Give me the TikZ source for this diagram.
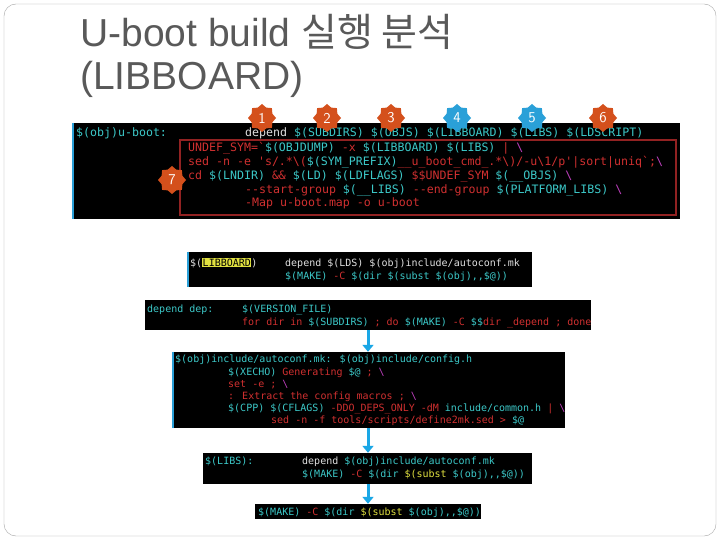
\documentclass[tikz,border=0pt]{standalone}
\usepackage{fontspec}
\setmainfont{Liberation Sans}
\newfontfamily\krfont{Noto Sans CJK KR}
\newfontfamily\monofont[Ligatures=ResetAll]{DejaVu Sans Mono}
\usetikzlibrary{shapes.geometric,arrows.meta}
\definecolor{tcyan}{HTML}{3CC8C8}
\definecolor{tred}{HTML}{D03030}
\definecolor{tmag}{HTML}{C040C0}
\definecolor{twhite}{HTML}{E0E0E0}
\definecolor{tyel}{HTML}{E0E040}
\definecolor{badge}{HTML}{D4501C}
\definecolor{bblue}{HTML}{2AA0D8}
\definecolor{arrowc}{HTML}{1AA7E6}
\definecolor{titlec}{HTML}{595959}
\newcommand\Tc[1]{\textcolor{tcyan}{#1}}
\newcommand\Tr[1]{\textcolor{tred}{#1}}
\newcommand\Tm[1]{\textcolor{tmag}{#1}}
\newcommand\Tw[1]{\textcolor{twhite}{#1}}
\newcommand\Ty[1]{\textcolor{tyel}{#1}}
\newcommand\bs{\textbackslash}
\tikzset{
  box/.style={fill=black,draw=none,inner sep=0},
  txt/.style={anchor=base west,inner sep=0,font=\monofont\fontsize{10}{12}\selectfont},
  bigtxt/.style={anchor=base west,inner sep=0,font=\monofont\fontsize{11.6}{13}\selectfont},
  badgestar/.style={star,star points=8,star point ratio=1.25,fill=badge,minimum size=28pt,inner sep=0,text=white,font=\sffamily\fontsize{15}{15}\selectfont},
  arr/.style={draw=arrowc,line width=3pt,-{Triangle[length=7pt,width=11pt]}},
  ttl/.style={anchor=base west,inner sep=0,text=titlec,font=\fontsize{39}{44}\selectfont},
}
\begin{document}
\begin{tikzpicture}[x=1pt,y=-1pt]
\useasboundingbox (0,0) rectangle (720,540);
\fill[white] (0,0) rectangle (720,540);
\draw[gray!70,rounded corners=12] (4,4) rectangle (716,536);
\node[ttl] (t1) at (80,47) {U-boot build {\krfont 실행 분석}};
\node[ttl] (t2) at (80,90) {(LIBBOARD)};
% boxes
\node[box,minimum width=607,minimum height=96] (b1) at (376.5,171) {};
\draw[bblue,line width=2pt] (b1.north west) -- (b1.south west);
\draw[tred!70!black,line width=1.2pt] (180,140) rectangle (676,215);
\node[box,minimum width=344,minimum height=35] (b2) at (360,269.5) {};
\draw[bblue,line width=1.5pt] (b2.north west) -- (b2.south west);
\node[box,minimum width=446,minimum height=30] (b3) at (368,315) {};
\node[box,minimum width=392,minimum height=76] (b4) at (369,390) {};
\draw[bblue,line width=1.5pt] (b4.north west) -- (b4.south west);
\node[box,minimum width=329,minimum height=31] (b5) at (367.5,468.5) {};
\node[box,minimum width=226,minimum height=15] (b6) at (368,511.5) {};
\coordinate (ax) at (368,0);
\draw[arr] (b3.south -| ax) -- (b4.north -| ax);
\draw[arr] (b4.south -| ax) -- (b5.north -| ax);
\draw[arr] (b5.south -| ax) -- (b6.north -| ax);
% box1 text
\node[bigtxt] (l0) at (76,137) {\Tc{\$(obj)u-boot:}};
\node[bigtxt] (l1) at (245,137) {\Tw{depend} \Tc{\$(SUBDIRS) \$(OBJS) \$(LIBBOARD) \$(LIBS) \$(LDSCRIPT)}};
\node[bigtxt] (l2) at (188,152) {\Tr{UNDEF\_SYM=`}\Tc{\$(OBJDUMP)} \Tr{-x} \Tc{\$(LIBBOARD) \$(LIBS)} \Tr{|} \Tm{\bs}};
\node[bigtxt] (l3) at (188,166) {\Tr{sed -n -e 's/.*\bs(}\Tc{\$(SYM\_PREFIX)}\Tr{\_\_u\_boot\_cmd\_.*\bs)/-u\bs1/p'|sort|uniq`;}\Tm{\bs}};
\node[bigtxt] (l4) at (188,180) {\Tr{cd} \Tc{\$(LNDIR)} \Tr{\&\&} \Tc{\$(LD) \$(LDFLAGS)} \Tr{\$\$UNDEF\_SYM} \Tc{\$(\_\_OBJS)} \Tm{\bs}};
\node[bigtxt] (l5) at (245,194) {\Tr{--start-group} \Tc{\$(\_\_LIBS)} \Tr{--end-group} \Tc{\$(PLATFORM\_LIBS)} \Tm{\bs}};
\node[bigtxt] (l6) at (245,207) {\Tr{-Map u-boot.map -o u-boot}};
% badges
\node[badgestar] (n1) at (262,118) {1};
\node[badgestar] (n2) at (327,118) {2};
\node[badgestar] (n3) at (391,118) {3};
\node[badgestar,fill=bblue] (n4) at (457,118) {4};
\node[badgestar,fill=bblue] (n5) at (532,118) {5};
\node[badgestar] (n6) at (603,118) {6};
\node[badgestar] (n7) at (172,180) {7};
% box2
\node[txt] (m0) at (190,266) {\Tw{\$(}{\setlength{\fboxsep}{0.5pt}\colorbox{tyel}{\textcolor{black}{LIBBOARD}}}\Tw{)}};
\node[txt] (m1) at (285,266) {\Tw{depend \$(LDS) \$(obj)include/autoconf.mk}};
\node[txt] (m2) at (285,279) {\Tc{\$(MAKE)} \Tr{-C} \Tc{\$(dir \$(subst \$(obj),,\$@))}};
% box3
\node[txt] (d0) at (147,312) {\Tc{depend dep:}};
\node[txt] (d1) at (242,312) {\Tc{\$(VERSION\_FILE)}};
\node[txt] (d2) at (242,325) {\Tr{for dir in} \Tc{\$(SUBDIRS)} \Tr{; do} \Tc{\$(MAKE)} \Tr{-C} \Tc{\$\$}\Tr{dir \_depend ; done}};
% box4
\node[txt] (a0) at (175,362) {\Tc{\$(obj)include/autoconf.mk: \$(obj)include/config.h}};
\node[txt] (a1) at (228,375) {\Tc{\$(XECHO)} \Tr{Generating} \Tc{\$@} \Tr{;} \Tm{\bs}};
\node[txt] (a2) at (228,387) {\Tr{set -e ;} \Tm{\bs}};
\node[txt] (a3) at (228,399) {\Tr{: Extract the config macros ;} \Tm{\bs}};
\node[txt] (a4) at (228,411) {\Tc{\$(CPP) \$(CFLAGS)} \Tr{-DDO\_DEPS\_ONLY -dM} \Tc{include/common.h} \Tr{|} \Tm{\bs}};
\node[txt] (a5) at (271,423) {\Tr{sed -n -f tools/scripts/define2mk.sed >} \Tc{\$@}};
% box5
\node[txt] (c0) at (205,464) {\Tc{\$(LIBS):}};
\node[txt] (c1) at (302,464) {\Tw{depend} \Tc{\$(obj)include/autoconf.mk}};
\node[txt] (c2) at (302,477) {\Tc{\$(MAKE)} \Tr{-C} \Tc{\$(dir} \Ty{\$(subst} \Tc{\$(obj),,\$@))}};
% box6
\node[txt] (e0) at (258,515) {\Tc{\$(MAKE)} \Tr{-C} \Tc{\$(dir} \Ty{\$(subst} \Tc{\$(obj),,\$@))}};
\end{tikzpicture}
\end{document}
